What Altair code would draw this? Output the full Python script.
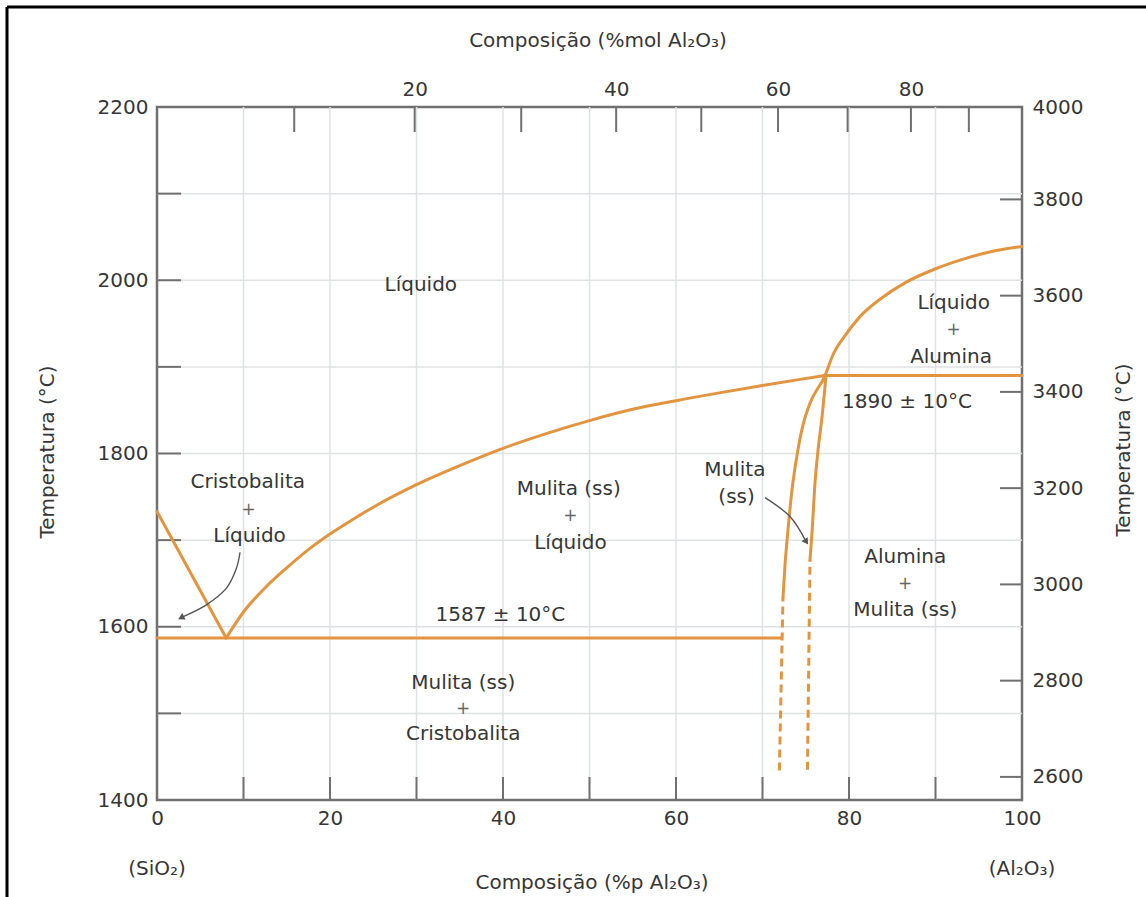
import altair as alt
import pandas as pd

W, H = 865, 693
ORANGE = "#E3943F"
INK = "#363636"
FRAME = "#707070"
GRID = "#dfe2e4"
FONT = "DejaVu Sans"

# Phase boundaries: composition in wt% Al2O3, temperature in °C
cristobalita_liq_x = [0.0, 8.0]
cristobalita_liq_T = [1733, 1587]

mulita_liq_x = [8.0, 10.0, 12.5, 15.0, 17.5, 20.0, 22.5, 25.0, 30.0, 35.0,
                40.0, 45.0, 50.0, 55.0, 60.0, 65.0, 70.0, 74.0, 77.23]
mulita_liq_T = [1587, 1617, 1645, 1668, 1689, 1707, 1723, 1738, 1764, 1786,
                1806, 1823, 1838, 1851, 1861, 1870, 1878.5, 1885, 1890]

# alumina liquidus continuing down as the left edge of the mullite field
alumina_liq_x = [72.37, 72.6, 72.95, 73.41, 73.99, 74.68, 75.49, 77.23,
                 78.15, 79.54, 81.27, 83.58, 86.47, 89.94, 93.41, 96.88, 100.0]
alumina_liq_T = [1634, 1671, 1712, 1758, 1798, 1833, 1858, 1890,
                 1914, 1936, 1958, 1978, 1997, 2013, 2025, 2034, 2039]

mulita_right_x = [75.49, 75.72, 76.07, 76.42, 76.88, 77.34]
mulita_right_T = [1677, 1708, 1766, 1804, 1842, 1890]

eutetico_1587_x = [0.0, 72.1]
eutetico_1587_T = [1587, 1587]
eutetico_1890_x = [77.23, 100.0]
eutetico_1890_T = [1890, 1890]

dash_left_x = [71.95, 72.37]
dash_left_T = [1434, 1634]
dash_right_x = [75.2, 75.49]
dash_right_T = [1435, 1677]

# pointer lines
seta1_x = [9.6, 9.13, 7.98, 5.66, 2.89]
seta1_T = [1686, 1666, 1644, 1625, 1611]
seta2_x = [70.3, 73.2, 75.0]
seta2_T = [1749, 1727, 1699]
seta_tip_x = [2.89, 75.0]
seta_tip_T = [1611, 1699]
seta_tip_ang = [243, 146]

# region labels
label_text = ["Líquido", "Cristobalita", "Líquido", "Mulita (ss)", "Líquido",
              "1587 ± 10°C", "Mulita (ss)", "Cristobalita", "Mulita", "(ss)",
              "Líquido", "Alumina", "1890 ± 10°C", "Alumina", "Mulita (ss)"]
label_x = [30.5, 10.5, 10.7, 47.6, 47.8, 39.7, 35.4, 35.4, 66.8, 67.0,
           92.1, 91.8, 86.7, 86.5, 86.5]
label_T = [1995, 1767, 1705, 1759, 1697, 1614, 1535, 1476, 1781, 1750,
           1974, 1911, 1860, 1681, 1619]
plus_x = [10.6, 47.8, 35.4, 92.1, 86.5]
plus_T = [1735, 1728, 1505, 1942, 1649]

grid_x = list(range(10, 100, 10))
grid_T = list(range(1500, 2200, 100))
mol_ticks = list(range(10, 100, 10))
f_ticks = list(range(2600, 3801, 200))

M_AL2O3, M_SIO2 = 101.96, 60.08


def mol_to_wt(m):
    a = m * M_AL2O3
    return 100 * a / (a + (100 - m) * M_SIO2)


def f_to_c(f):
    return (f - 32) / 1.8


def seg(name, xs, ts):
    return pd.DataFrame({"seg": name, "ord": range(len(xs)), "x": xs, "T": ts})


solid = pd.concat([
    seg("cristobalita", cristobalita_liq_x, cristobalita_liq_T),
    seg("mulita_liq", mulita_liq_x, mulita_liq_T),
    seg("alumina_liq", alumina_liq_x, alumina_liq_T),
    seg("mulita_dir", mulita_right_x, mulita_right_T),
    seg("e1587", eutetico_1587_x, eutetico_1587_T),
    seg("e1890", eutetico_1890_x, eutetico_1890_T),
])
dashed = pd.concat([
    seg("dl", dash_left_x, dash_left_T),
    seg("dr", dash_right_x, dash_right_T),
])
arrows = pd.concat([seg("a1", seta1_x, seta1_T), seg("a2", seta2_x, seta2_T)])
tips = pd.DataFrame({"x": seta_tip_x, "T": seta_tip_T, "ang": seta_tip_ang})
labels = pd.DataFrame({"x": label_x, "T": label_T, "label": label_text})
pluses = pd.DataFrame({"x": plus_x, "T": plus_T, "label": ["+"] * len(plus_x)})
ends = pd.DataFrame({"x": [0, 100], "label": ["(SiO₂)", "(Al₂O₃)"]})
one = pd.DataFrame({"k": [0]})

xs = alt.Scale(domain=[0, 100], nice=False, zero=False)
ys = alt.Scale(domain=[1400, 2200], nice=False, zero=False)

common = dict(ticks=False, domain=False, grid=False, labelFont=FONT, labelFontSize=20,
              labelColor=INK, labelOverlap=False, labelFlush=False, titleFont=FONT,
              titleFontSize=20, titleFontWeight="normal", titleColor=INK,
              titleAlign="center", titleBaseline="middle")

x_axis = alt.Axis(orient="bottom", values=[0, 20, 40, 60, 80, 100], format="d",
                  labelPadding=8, title="Composição (%p Al₂O₃)",
                  titleX=W / 2 + 2, titleY=82, **common)
y_axis = alt.Axis(orient="left", values=[1400, 1600, 1800, 2000, 2200], format="d",
                  labelPadding=9, title="Temperatura (°C)", titleX=-110,
                  titleY=H / 2 - 2, titleAngle=270, **common)
top_axis = alt.Axis(orient="top", values=[mol_to_wt(m) for m in [20, 40, 60, 80]],
                    labelExpr="format(round(100*(datum.value/101.96)/((datum.value/101.96)+((100-datum.value)/60.08))), 'd')",
                    labelPadding=8, title="Composição (%mol Al₂O₃)",
                    titleX=W / 2 + 8, titleY=-67, **common)
right_axis = alt.Axis(orient="right", values=[f_to_c(f) for f in f_ticks] + [2200],
                      labelExpr="format(round((datum.value*1.8+32)/100)*100, 'd')",
                      labelPadding=10, title="Temperatura (°C)", titleX=101,
                      titleY=H / 2 - 4, titleAngle=270, **common)

X = alt.X("x:Q", scale=xs, axis=x_axis)
Y = alt.Y("T:Q", scale=ys, axis=y_axis)

grid_v = alt.Chart(pd.DataFrame({"x": grid_x})).mark_rule(color=GRID, strokeWidth=1.5).encode(x=X)
grid_h = alt.Chart(pd.DataFrame({"T": grid_T})).mark_rule(color=GRID, strokeWidth=1.5).encode(y=Y)

ticks_bottom = alt.Chart(pd.DataFrame({"x": grid_x})).mark_rule(color=FRAME, strokeWidth=2).encode(
    x=X, y=alt.value(H), y2=alt.value(H - 23))
ticks_left = alt.Chart(pd.DataFrame({"T": grid_T})).mark_rule(color=FRAME, strokeWidth=2).encode(
    y=Y, x=alt.value(0), x2=alt.value(24))

lines = alt.Chart(solid).mark_line(color=ORANGE, strokeWidth=3, interpolate="monotone",
                                   strokeCap="round", strokeJoin="round").encode(
    x=X, y=Y, detail="seg:N", order="ord:Q")
dash = alt.Chart(dashed).mark_line(color=ORANGE, strokeWidth=3, strokeDash=[8, 5]).encode(
    x=X, y=Y, detail="seg:N", order="ord:Q")

pointer = alt.Chart(arrows).mark_line(color="#555555", strokeWidth=1.4, interpolate="cardinal").encode(
    x=X, y=Y, detail="seg:N", order="ord:Q")
pointer_tip = alt.Chart(tips).mark_point(shape="triangle", filled=True, size=55,
                                         color="#555555", opacity=1).encode(
    x=X, y=Y, angle=alt.Angle("ang:Q", scale=None))

text = alt.Chart(labels).mark_text(font=FONT, fontSize=20, color=INK, align="center",
                                   baseline="middle").encode(x=X, y=Y, text="label:N")
plus = alt.Chart(pluses).mark_text(font=FONT, fontSize=17, color="#666666", align="center",
                                   baseline="middle").encode(x=X, y=Y, text="label:N")
end_text = alt.Chart(ends).mark_text(font=FONT, fontSize=20, color=INK, align="center",
                                     baseline="middle").encode(x=X, y=alt.value(H + 69), text="label:N")

# black border around the figure
border_top = alt.Chart(one).mark_rule(color="black", strokeWidth=3).encode(
    x=alt.value(-150), x2=alt.value(W + 140), y=alt.value(-100))
border_left = alt.Chart(one).mark_rule(color="black", strokeWidth=3).encode(
    x=alt.value(-150), y=alt.value(-100), y2=alt.value(H + 110))

inner = alt.layer(grid_v, grid_h, ticks_bottom, ticks_left, lines, dash, pointer,
                  pointer_tip, text, plus, end_text, border_top, border_left)

top_ticks = alt.Chart(pd.DataFrame({"x": [mol_to_wt(m) for m in mol_ticks]})).mark_rule(
    color=FRAME, strokeWidth=2).encode(
    x=alt.X("x:Q", scale=xs, axis=top_axis), y=alt.value(0), y2=alt.value(25))
right_ticks = alt.Chart(pd.DataFrame({"T": [f_to_c(f) for f in f_ticks]})).mark_rule(
    color=FRAME, strokeWidth=2).encode(
    y=alt.Y("T:Q", scale=ys, axis=right_axis), x=alt.value(W), x2=alt.value(W - 22))

chart = alt.layer(inner, top_ticks, right_ticks).resolve_scale(
    x="independent", y="independent"
).properties(
    width=W, height=H,
    padding={"left": 157, "top": 107, "right": 124, "bottom": 97},
    autosize=alt.AutoSizeParams(type="none"),
    background="white",
).configure_view(stroke=FRAME, strokeWidth=2.5)

chart.save("out.html", embed_options={"renderer": "svg", "actions": False})
